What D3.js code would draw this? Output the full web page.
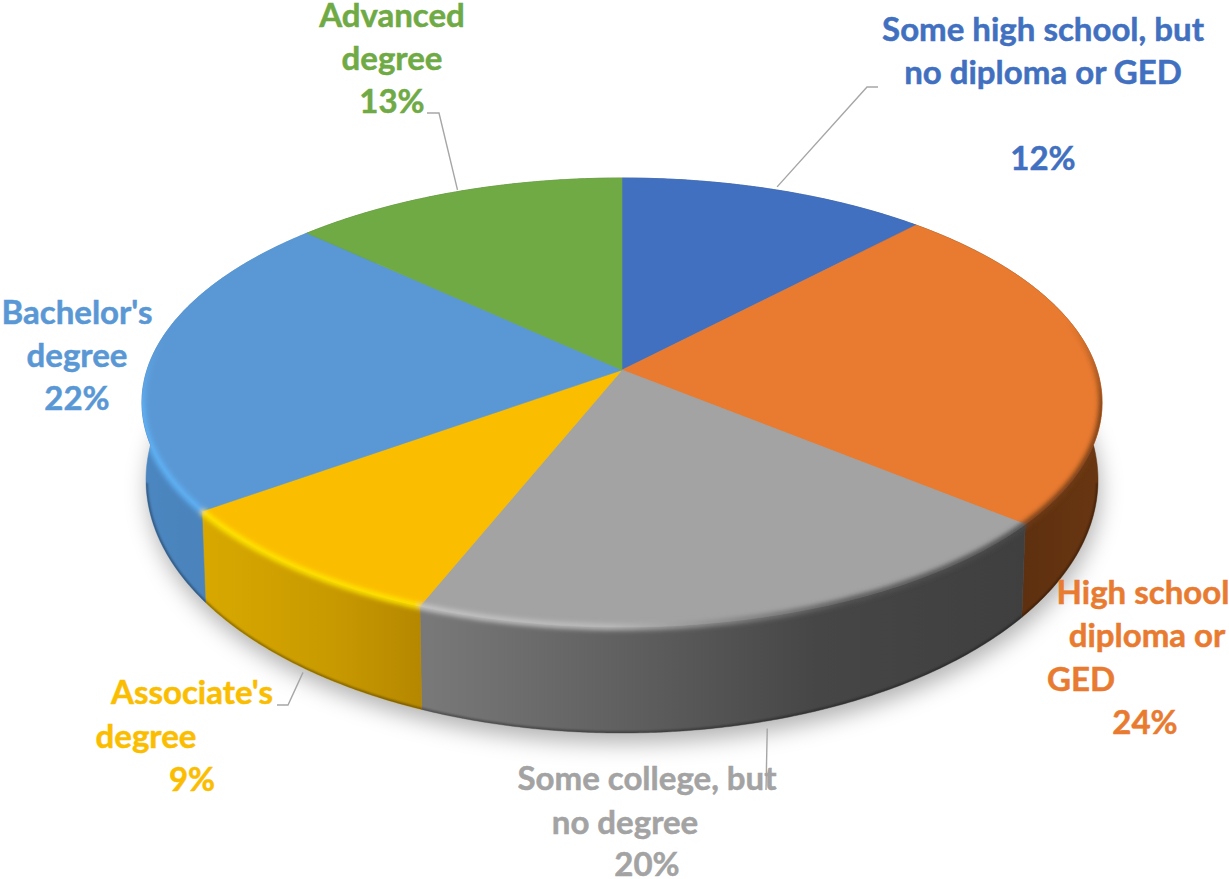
<!DOCTYPE html>
<html>
<head>
<meta charset="utf-8">
<style>
  html, body { margin: 0; padding: 0; background: #fff; overflow: hidden; }
  text { font-family: Lato, "Noto Sans", sans-serif; font-weight: 700; }
</style>
<script src="https://cdn.jsdelivr.net/npm/d3@7/dist/d3.min.js"></script>
</head>
<body>
<script>
// Educational attainment shares, clockwise from twelve o'clock
const categories = [
  "Some high school, but no diploma or GED",
  "High school diploma or GED",
  "Some college, but no degree",
  "Associate's degree",
  "Bachelor's degree",
  "Advanced degree"
];
const shares = [12, 24, 20, 9, 22, 13];
const sliceColors = ["#4170c0", "#e97b31", "#a3a3a3", "#fbbd00", "#5a98d5", "#6faa45"];
const labelLines = [
  ["Some high school, but", "no diploma or GED", "12%"],
  ["High school", "diploma or", "GED", "24%"],
  ["Some college, but", "no degree", "20%"],
  ["Associate's", "degree", "9%"],
  ["Bachelor's", "degree", "22%"],
  ["Advanced", "degree", "13%"]
];

const width = 1229, height = 879;
const TAU = Math.PI * 2;

// Perspective projection of the disc: the near edge is drawn larger than the far edge
const tilt = 0.1448;
const topPlane = { x0: 622, y0: 370, sx: 475, sy: 219.8 };
const basePlane = { x0: 622, y0: 443.4, sx: 471, sy: 247.7 };
const project = (plane, a, r = 1) => {
  const X = r * Math.sin(a), Y = -r * Math.cos(a), w = 1 - tilt * Y;
  return [plane.x0 + plane.sx * X / w, plane.y0 + plane.sy * Y / w];
};
const arcPoints = (plane, a0, a1) => {
  const n = Math.max(2, Math.ceil((a1 - a0) / 0.01));
  return d3.range(n + 1).map(i => project(plane, a0 + (a1 - a0) * i / n));
};
const line = d3.line();

const svg = d3.select("body").append("svg")
  .attr("width", width).attr("height", height)
  .style("display", "block");
const defs = svg.append("defs");

const blurFilter = (id, dev) => defs.append("filter").attr("id", id)
  .attr("filterUnits", "userSpaceOnUse")
  .attr("x", 0).attr("y", 0).attr("width", width).attr("height", height)
  .append("feGaussianBlur").attr("stdDeviation", dev);
blurFilter("soft-shadow", 11);
blurFilter("rim-blur", 2.4);
blurFilter("lip-blur", 1);

const gradient = (id, x1, y1, x2, y2, stops) => {
  const g = defs.append("linearGradient").attr("id", id)
    .attr("gradientUnits", "userSpaceOnUse")
    .attr("x1", x1).attr("y1", y1).attr("x2", x2).attr("y2", y2);
  stops.forEach(([o, c, op]) => g.append("stop")
    .attr("offset", o).attr("stop-color", c).attr("stop-opacity", op === undefined ? 1 : op));
  return `url(#${id})`;
};

// Horizontal shading of the outer wall, one ramp per slice
const wallFill = [
  "#2c4a80",
  gradient("wall-1", 1020, 0, 1103, 0, [[0, "#5e300f"], [1, "#693612"]]),
  gradient("wall-2", 430, 0, 1025, 0, [[0, "#787878"], [0.35, "#5e5e5e"], [0.65, "#464646"], [1, "#3f3f3f"]]),
  gradient("wall-3", 205, 0, 432, 0, [[0, "#d8a800"], [0.55, "#c99a00"], [1, "#b38500"]]),
  gradient("wall-4", 148, 0, 208, 0, [[0, "#4b86c0"], [1, "#4b83bb"]]),
  "#4a7a2e"
];

// Bevel along the upper rim, bright on the left and dark towards the right
const rimStroke = [
  null,
  gradient("rim-1", 0, 523, 0, 320, [[0, "#6e3a14", 1], [0.55, "#6e3a14", 1], [1, "#6e3a14", 0]]),
  gradient("rim-2", 430, 0, 1030, 0, [[0, "#c6c6c6"], [0.3, "#bcbcbc"], [0.5, "#888888"], [0.7, "#555555"], [1, "#4a4a4a"]]),
  gradient("rim-3", 205, 0, 432, 0, [[0, "#ffe600"], [1, "#ffe600"]]),
  gradient("rim-4", 0, 515, 0, 340, [[0, "#5fb2f6", 1], [0.6, "#5fb2f6", 1], [1, "#5fb2f6", 0]]),
  null
];

const slices = d3.pie().sort(null).value(d => d).startAngle(0).endAngle(TAU)(shares);

const wallPath = s => line([
  ...arcPoints(topPlane, s.startAngle, s.endAngle),
  ...arcPoints(basePlane, s.startAngle, s.endAngle).reverse()
]) + "Z";

// Everything the rim may paint on: top face and wall together
const outline = arcPoints(topPlane, 0, TAU);
const baseOutline = arcPoints(basePlane, 0, TAU);
const clip = defs.append("clipPath").attr("id", "disc-clip");
clip.append("path").attr("d", line(outline) + "Z");
clip.append("path").attr("d", line(baseOutline) + "Z");
slices.forEach(s => clip.append("path").attr("d", wallPath(s)));

// Soft cast shadow beneath the disc
svg.append("path")
  .attr("d", line(baseOutline.map(([x, y]) => [x + 2, y + 10])) + "Z")
  .attr("fill", "#000").attr("fill-opacity", 0.3)
  .attr("filter", "url(#soft-shadow)");

// Outer walls
svg.append("g").selectAll("path").data(slices).join("path")
  .attr("d", wallPath)
  .attr("fill", (s, i) => wallFill[i])
  .attr("stroke", (s, i) => wallFill[i]).attr("stroke-width", 0.5);

// Thin dark lip along the lower edge of the wall, hidden behind the top face at the back
svg.append("g").attr("clip-path", "url(#disc-clip)")
  .append("path")
  .attr("d", line(arcPoints(basePlane, Math.PI * 0.55, Math.PI * 1.45)))
  .attr("fill", "none").attr("stroke", "#000").attr("stroke-opacity", 0.35)
  .attr("stroke-width", 3.5)
  .attr("filter", "url(#lip-blur)");

// Top faces
svg.append("g").selectAll("path").data(slices).join("path")
  .attr("d", s => line([[topPlane.x0, topPlane.y0], ...arcPoints(topPlane, s.startAngle, s.endAngle)]) + "Z")
  .attr("fill", (s, i) => sliceColors[i])
  .attr("stroke", (s, i) => sliceColors[i]).attr("stroke-width", 0.6);

// Rim bevel, blurred and kept inside the disc silhouette
const rim = svg.append("g").attr("clip-path", "url(#disc-clip)")
  .append("g").attr("filter", "url(#rim-blur)");
rim.selectAll("path").data(slices.filter((s, i) => rimStroke[i])).join("path")
  .attr("d", s => line(arcPoints(topPlane, s.startAngle, s.endAngle)))
  .attr("fill", "none")
  .attr("stroke", s => rimStroke[s.index])
  .attr("stroke-width", 6);

// Leader lines run from a slice's mid-angle on the rim out to its label
const midAngle = s => (s.startAngle + s.endAngle) / 2;
const leaders = [
  { slice: 0, plane: topPlane, nudge: [1, -3], elbow: [[867, 87], [878, 87]] },
  { slice: 5, plane: topPlane, nudge: [2, -2], elbow: [[439, 113], [427, 113]] },
  { slice: 3, plane: basePlane, nudge: [7, 8], elbow: [[288, 705], [277, 705]] },
  { slice: 2, plane: basePlane, nudge: [9, 6], elbow: [[766, 790]] }
];
svg.append("g").selectAll("path").data(leaders).join("path")
  .attr("d", d => {
    const [x, y] = project(d.plane, midAngle(slices[d.slice]));
    return line([[x + d.nudge[0], y + d.nudge[1]], ...d.elbow]);
  })
  .attr("fill", "none").attr("stroke", "#a6a6a6").attr("stroke-width", 1.4);

// Data labels: each line placed by its own centre and baseline
const labelLayout = [
  [[1043, 41], [1043, 84], [1043, 170]],
  [[1143, 604], [1147, 647], [1081, 691], [1145, 734]],
  [[647, 790], [625, 834], [647, 876]],
  [[192, 704], [146, 748], [192, 791]],
  [[77, 324], [77, 367], [77, 410]],
  [[392, 27], [392, 70], [392, 113]]
];
const labels = svg.append("g").attr("font-size", 33);
labelLines.forEach((lines, i) => {
  labels.selectAll(null).data(lines).join("text")
    .attr("x", (d, j) => labelLayout[i][j][0])
    .attr("y", (d, j) => labelLayout[i][j][1])
    .attr("text-anchor", "middle")
    .attr("fill", sliceColors[i])
    .attr("stroke", sliceColors[i])
    .attr("stroke-width", 0.5)
    .text(d => d);
});
</script>
</body>
</html>
